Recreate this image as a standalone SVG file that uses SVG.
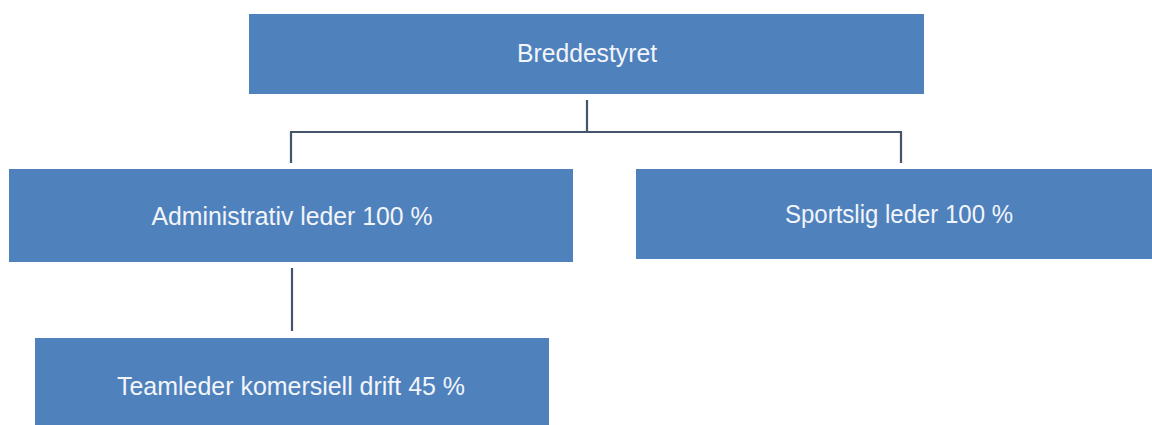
<svg xmlns="http://www.w3.org/2000/svg" width="1152" height="425" viewBox="0 0 1152 425">
<style>
.box{fill:#4F81BD;}
.lbl{font-family:"Liberation Sans",Arial,sans-serif;font-size:25px;fill:#F2F5FA;text-anchor:middle;}
.con{fill:none;stroke:#44546A;stroke-width:2.2;}
</style>
<rect width="1152" height="425" fill="#FFFFFF"/>
<g id="connectors">
<path class="con" d="M587 100 V132"/>
<path class="con" d="M291 163 V132 H901 V163"/>
<path class="con" d="M292 268 V331"/>
</g>
<g id="breddestyret">
<rect class="box" x="249" y="14" width="675" height="80"/>
<text class="lbl" x="587" y="62" textLength="140" lengthAdjust="spacingAndGlyphs">Breddestyret</text>
</g>
<g id="administrativ">
<rect class="box" x="9" y="169" width="564" height="93"/>
<text class="lbl" x="292" y="225" textLength="281" lengthAdjust="spacingAndGlyphs">Administrativ leder 100 %</text>
</g>
<g id="sportslig">
<rect class="box" x="636" y="169" width="516" height="90"/>
<text class="lbl" x="899" y="223" textLength="228" lengthAdjust="spacingAndGlyphs">Sportslig leder 100 %</text>
</g>
<g id="teamleder">
<rect class="box" x="35" y="338" width="514" height="87"/>
<text class="lbl" x="291" y="395" textLength="348" lengthAdjust="spacingAndGlyphs">Teamleder komersiell drift 45 %</text>
</g>
</svg>
